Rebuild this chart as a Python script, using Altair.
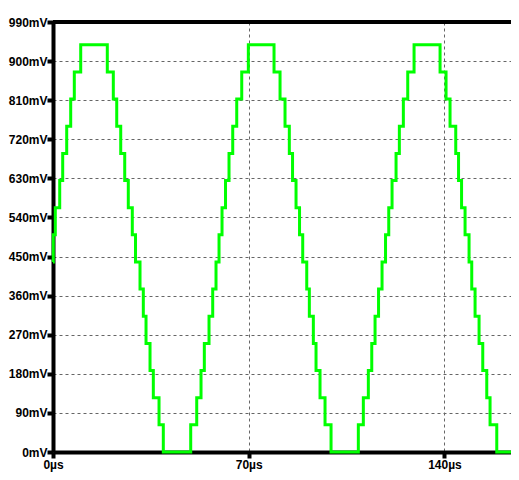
import altair as alt
import pandas as pd

# Transition times (µs) of the stepped waveform and the level held after each
times_us = [0, 0.1, 0.82, 2.40, 3.47, 4.90, 6.33, 7.62, 9.91,
            19.42, 21.57, 22.79, 24.22, 25.65, 26.93, 28.36, 29.51, 31.12, 32.30, 33.27, 34.70, 35.88, 37.92, 39.45,
            49.25, 51.40, 52.94, 54.12, 55.80, 57.12, 58.30, 59.38, 60.45, 61.70, 62.95, 64.28, 65.71, 67.50, 69.86,
            79.05, 81.20, 82.98, 84.52, 85.67, 86.92, 88.17, 89.31, 90.75, 91.68, 93.11, 94.07, 95.50, 97.29, 99.44,
            109.20, 110.99, 112.78, 114.00, 115.18, 116.43, 117.68, 118.93, 120.08, 121.26, 122.69, 123.87, 125.30, 126.87, 129.13,
            138.43, 140.57, 142.00, 144.04, 145.04, 146.12, 147.37, 148.80, 149.76, 150.95, 152.38, 153.70, 155.13, 156.31, 158.71,
            166.7]
levels_mv = [437.5, 500, 562.5, 625, 687.5, 750, 812.5, 875, 937.5,
             875, 812.5, 750, 687.5, 625, 562.5, 500, 437.5, 375, 312.5, 250, 187.5, 125, 62.5, 0,
             62.5, 125, 187.5, 250, 312.5, 375, 437.5, 500, 562.5, 625, 687.5, 750, 812.5, 875, 937.5,
             875, 812.5, 750, 687.5, 625, 562.5, 500, 437.5, 375, 312.5, 250, 187.5, 125, 62.5, 0,
             62.5, 125, 187.5, 250, 312.5, 375, 437.5, 500, 562.5, 625, 687.5, 750, 812.5, 875, 937.5,
             875, 812.5, 750, 687.5, 625, 562.5, 500, 437.5, 375, 312.5, 250, 187.5, 125, 62.5, 0,
             0]
x_ticks = [0, 70, 140]
y_ticks = [0, 90, 180, 270, 360, 450, 540, 630, 720, 810, 900, 990]

df = pd.DataFrame({"t": times_us, "v": levels_mv})

FONT = "Liberation Sans"

line = alt.Chart(df).mark_line(
    color="#00ff00", strokeWidth=3, interpolate="step-after"
).encode(
    x=alt.X("t:Q",
            scale=alt.Scale(domain=[0, 163.8], nice=False, zero=False),
            axis=alt.Axis(values=x_ticks, labelExpr="datum.value + 'µs'", title=None,
                          grid=True, gridDash=[3, 3], gridColor="#666666", gridWidth=1,
                          domainWidth=4, domainColor="black",
                          tickWidth=4, tickSize=6, tickColor="black",
                          labelFont=FONT, labelFontSize=12, labelFontWeight="bold",
                          labelColor="black", labelPadding=1, labelFlush=False)),
    y=alt.Y("v:Q",
            scale=alt.Scale(domain=[0, 990], nice=False, zero=False),
            axis=alt.Axis(values=y_ticks, labelExpr="datum.value + 'mV'", title=None,
                          grid=True, gridDash=[3, 3], gridColor="#666666", gridWidth=1,
                          domainWidth=4, domainColor="black",
                          tickWidth=4, tickSize=6, tickColor="black",
                          labelFont=FONT, labelFontSize=12, labelFontWeight="bold",
                          labelColor="black", labelPadding=0, labelFlush=False)),
)

top_border = alt.Chart(df).mark_rule(color="black", strokeWidth=4).encode(
    y=alt.value(0)
)

chart = alt.layer(line, top_border).properties(
    width=458, height=430,
    autosize=alt.AutoSizeParams(type="none"),
    padding={"left": 45, "top": 14, "right": 0, "bottom": 20},
    background="white",
).configure_view(stroke=None)

chart.save("out.html", embed_options={"renderer": "svg", "actions": False})
